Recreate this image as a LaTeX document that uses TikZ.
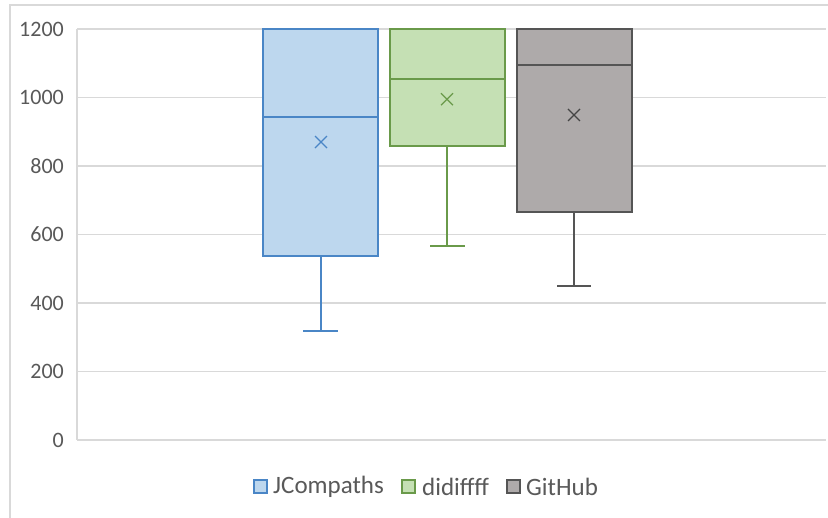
\documentclass[tikz,border=0pt]{standalone}
\usepackage{fontspec}
\setmainfont{Carlito}

\definecolor{jcfill}{HTML}{BDD7EE}
\definecolor{jcline}{HTML}{4A86C6}
\definecolor{ddfill}{HTML}{C5E0B4}
\definecolor{ddline}{HTML}{6A9A4A}
\definecolor{ghfill}{HTML}{AEAAAA}
\definecolor{ghline}{HTML}{555555}
\definecolor{gridgray}{HTML}{D9D9D9}
\definecolor{labelgray}{HTML}{595959}

\tikzset{
  gridline/.style={draw=gridgray, line width=1.2pt},
  ticklabel/.style={anchor=east, text=labelgray, font=\fontsize{22}{25}\selectfont, inner sep=0pt},
  legendlabel/.style={anchor=west, text=labelgray, font=\fontsize{25}{28}\selectfont, inner sep=0pt},
  boxplot/.style={line width=1.3pt},
}

\begin{document}
\begin{tikzpicture}[x=1pt, y=-1pt]
  \useasboundingbox[fill=white] (0,0) rectangle (828,518);
  % chart frame
  \draw[gridgray, line width=1.5pt] (10,518) -- (10,5) -- (828,5);

  \begin{scope}[shift={(0,440)}, y=0.3425pt]
    % grid and ticks
    \foreach \v in {0,200,...,1200} {
      \draw[gridline] (77,\v) -- (826,\v);
      \node[ticklabel] (tick\v) at (64,\v) {\v};
    }
    \draw[gridline] (77,0) -- (77,1200);

    % JCompaths
    \draw[boxplot, draw=jcline, fill=jcfill] (263,537) rectangle (378,1200);
    \draw[boxplot, jcline] (263,943) -- (378,943);
    \draw[boxplot, jcline] (321,537) -- (321,318);
    \draw[boxplot, jcline] (303,318) -- (338,318);
    \draw[jcline, line width=1.2pt] (315,{870+17.5}) -- (327,{870-17.5});
    \draw[jcline, line width=1.2pt] (315,{870-17.5}) -- (327,{870+17.5});

    % didiffff
    \draw[boxplot, draw=ddline, fill=ddfill] (390,858) rectangle (505,1200);
    \draw[boxplot, ddline] (390,1054) -- (505,1054);
    \draw[boxplot, ddline] (447,858) -- (447,566);
    \draw[boxplot, ddline] (430,566) -- (465,566);
    \draw[ddline, line width=1.2pt] (441,{995+17.5}) -- (453,{995-17.5});
    \draw[ddline, line width=1.2pt] (441,{995-17.5}) -- (453,{995+17.5});

    % GitHub
    \draw[boxplot, draw=ghline, fill=ghfill] (517,666) rectangle (632,1200);
    \draw[boxplot, ghline] (517,1095) -- (632,1095);
    \draw[boxplot, ghline] (574,666) -- (574,450);
    \draw[boxplot, ghline] (557,450) -- (591,450);
    \draw[ghline!80!black, line width=1.2pt] (568,{949+17.5}) -- (580,{949-17.5});
    \draw[ghline!80!black, line width=1.2pt] (568,{949-17.5}) -- (580,{949+17.5});
  \end{scope}

  % legend
  \draw[boxplot, draw=jcline, fill=jcfill] (254,480) rectangle (267,493);
  \node[legendlabel] (jc) at (273,487) {JCompaths};
  \draw[boxplot, draw=ddline, fill=ddfill] (402,480) rectangle (415,493);
  \node[legendlabel] (dd) at (422,487) {didiffff};
  \draw[boxplot, draw=ghline, fill=ghfill] (507,480) rectangle (520,493);
  \node[legendlabel] (gh) at (526,487) {GitHub};
\end{tikzpicture}
\end{document}
